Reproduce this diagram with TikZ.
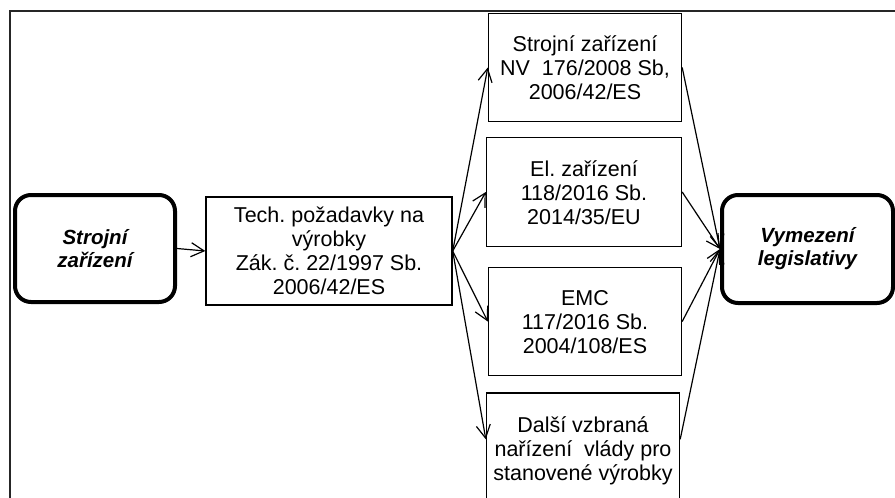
\documentclass[tikz,border=0pt]{standalone}
\usepackage{fontspec}
\setmainfont{Liberation Sans}
\usetikzlibrary{arrows.meta,calc}
\frenchspacing

\begin{document}
\begin{tikzpicture}[x=1pt,y=-1pt,
  font=\fontsize{21.5}{24}\selectfont,
  box/.style={draw, line width=1.4pt, align=center, inner sep=0pt},
  term/.style={draw, line width=4pt, rounded corners=16pt, align=center,
    inner sep=0pt, font=\fontsize{20.5}{23}\selectfont\bfseries\itshape},
  link/.style={line width=1.2pt,
    -{Straight Barb[length=13pt,width=14pt,line width=1.2pt]}},
]
\useasboundingbox (0,0) rectangle (895,498);
\clip (0,0) rectangle (895,498);

% outer frame
\draw[line width=2pt, black!85] (10,530) -- (10,11) -- (910,11);

% start and end terms
\node[term, minimum width=160, minimum height=107] (src) at (95,248.5) {Strojní\\zařízení};
\node[term, minimum width=171, minimum height=108] (dst) at (807.5,249) {Vymezení\\legislativy};

% general requirements
\node[box, minimum width=246, minimum height=108] (tech) at (329,251)
  {Tech. požadavky na\\výrobky\\Zák. č. 22/1997 Sb.\\2006/42/ES};

% individual regulations
\node[box, minimum width=193, minimum height=108] (b1) at (585,67.5)
  {\strut Strojní zařízení\\NV\ \ 176/2008 Sb,\\2006/42/ES};
\node[box, minimum width=195, minimum height=109] (b2) at (584,192)
  {\strut El. zařízení\\118/2016 Sb.\\2014/35/EU};
\node[box, minimum width=193, minimum height=108] (b3) at (585,321.5)
  {\strut EMC\\117/2016 Sb.\\2004/108/ES};
\node[box, minimum width=193, minimum height=114] (b4) at (583,450)
  {\strut Další vzbraná\\nařízení\ \ vlády pro\\stanovené výrobky};

\coordinate (b4in) at ($(b4.north west)+(0,47)$);
\coordinate (b4out) at ($(b4.north east)+(0,47)$);

% connectors
\draw[link] (src.east) -- (tech.west);
\draw[link] (tech.east) -- (b1.west);
\draw[link] (tech.east) -- (b2.west);
\draw[link] (tech.east) -- (b3.west);
\draw[link] (tech.east) -- (b4in);
\draw[link] (b1.east) -- (dst.west);
\draw[link] (b2.east) -- (dst.west);
\draw[link] (b3.east) -- (dst.west);
\draw[link] (b4out) -- (dst.west);
\end{tikzpicture}
\end{document}
